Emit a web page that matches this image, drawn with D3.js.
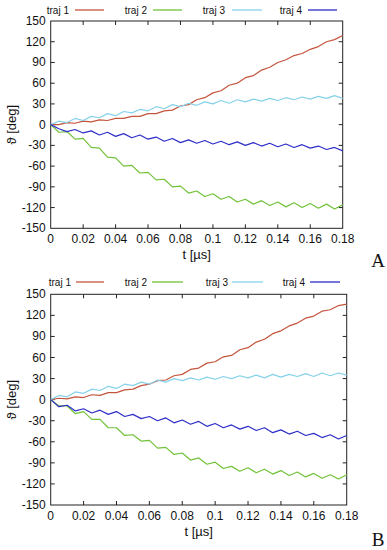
<!DOCTYPE html>
<html>
<head>
<meta charset="utf-8">
<script src="https://cdn.jsdelivr.net/npm/d3@7"></script>
<style>
  body { margin: 0; background: #fff; }
  svg { display: block; font-family: "Liberation Sans", Arial, sans-serif; }
</style>
</head>
<body>
<svg id="chart" width="387" height="550"></svg>
<script>
// time axis, shared by both panels (µs)
const times = d3.range(37).map(i => +(i * 0.005).toFixed(3));
const xTicks = [0, 0.02, 0.04, 0.06, 0.08, 0.1, 0.12, 0.14, 0.16, 0.18];
const yTicks = [-150, -120, -90, -60, -30, 0, 30, 60, 90, 120, 150];
const seriesNames = ['traj 1', 'traj 2', 'traj 3', 'traj 4'];
const seriesColors = ['#c4553d', '#72c23a', '#86d2ea', '#2e2ec8'];

// panel A
const a1 = [0,0,3,2,5,4,7,6,9,9,12,12,16,16,20,21,27,29,36,39,46,49,57,60,68,71,79,83,90,94,100,103,109,113,120,123,129];
const a2 = [0,-11,-10,-21,-20,-33,-34,-47,-48,-60,-59,-70,-69,-80,-79,-90,-89,-99,-96,-104,-100,-108,-104,-112,-108,-115,-110,-117,-112,-119,-113,-120,-114,-121,-115,-122,-116];
const a3 = [0,5,3,9,6,12,10,16,13,19,17,22,20,26,23,29,26,31,28,33,30,35,31,36,33,37,34,38,35,39,36,40,37,41,38,42,38];
const a4 = [0,-6,-10,-7,-12,-9,-15,-11,-17,-13,-19,-15,-21,-18,-24,-20,-26,-22,-27,-23,-28,-24,-29,-25,-30,-26,-31,-27,-32,-28,-33,-29,-34,-31,-36,-33,-38];

// panel B
const b1 = [0,2,1,4,3,7,6,10,10,14,15,20,22,27,28,34,36,43,45,52,54,61,63,71,74,82,86,94,98,105,109,116,119,126,128,134,136];
const b2 = [0,-9,-9,-20,-17,-28,-28,-40,-40,-51,-50,-59,-58,-69,-68,-78,-76,-86,-83,-92,-89,-98,-95,-102,-97,-104,-99,-106,-101,-108,-103,-110,-105,-112,-107,-113,-107];
const b3 = [0,6,4,11,9,15,13,19,16,22,20,25,22,28,25,30,27,31,28,32,29,33,30,34,31,35,31,36,32,36,33,37,33,38,34,38,35];
const b4 = [0,-10,-8,-16,-13,-19,-15,-21,-17,-24,-21,-27,-24,-30,-26,-33,-29,-35,-31,-38,-34,-40,-36,-42,-38,-44,-40,-47,-43,-49,-45,-51,-48,-54,-50,-56,-51];

const svg = d3.select('#chart');

function drawPanel({ left, right, top, bottom, legendY, legendPos, letter, letterY, series }) {
  const g = svg.append('g');
  const x = d3.scaleLinear().domain([0, 0.18]).range([left, right]);
  const y = d3.scaleLinear().domain([-150, 150]).range([bottom, top]);
  const tick = 4;

  // frame
  g.append('rect')
    .attr('x', left).attr('y', top)
    .attr('width', right - left).attr('height', bottom - top)
    .attr('fill', 'none').attr('stroke', '#222').attr('stroke-width', 1);

  // inward ticks, mirrored
  g.selectAll('line.xt').data(xTicks.slice(1, -1)).join('line')
    .attr('x1', d => x(d)).attr('x2', d => x(d))
    .attr('y1', bottom).attr('y2', bottom - tick)
    .attr('stroke', '#222');
  g.selectAll('line.xt2').data(xTicks.slice(1, -1)).join('line')
    .attr('x1', d => x(d)).attr('x2', d => x(d))
    .attr('y1', top).attr('y2', top + tick)
    .attr('stroke', '#222');
  g.selectAll('line.yt').data(yTicks.slice(1, -1)).join('line')
    .attr('x1', left).attr('x2', left + tick)
    .attr('y1', d => y(d)).attr('y2', d => y(d))
    .attr('stroke', '#222');
  g.selectAll('line.yt2').data(yTicks.slice(1, -1)).join('line')
    .attr('x1', right).attr('x2', right - tick)
    .attr('y1', d => y(d)).attr('y2', d => y(d))
    .attr('stroke', '#222');

  // tick labels
  g.selectAll('text.xl').data(xTicks).join('text')
    .attr('x', d => x(d)).attr('y', bottom + 15)
    .attr('text-anchor', 'middle').attr('font-size', 12).attr('fill', '#111')
    .text(d => d);
  g.selectAll('text.yl').data(yTicks).join('text')
    .attr('x', left - 5).attr('y', d => y(d) + 4)
    .attr('text-anchor', 'end').attr('font-size', 12).attr('fill', '#111')
    .text(d => d);

  // axis titles
  g.append('text')
    .attr('x', (left + right) / 2).attr('y', bottom + 31)
    .attr('text-anchor', 'middle').attr('font-size', 13).attr('fill', '#111')
    .text('t [µs]');
  g.append('text')
    .attr('transform', `translate(16,${(top + bottom) / 2}) rotate(-90)`)
    .attr('text-anchor', 'middle').attr('font-size', 13).attr('fill', '#111')
    .text('ϑ [deg]');

  // curves
  const line = d3.line().x((d, i) => x(times[i])).y(d => y(d));
  series.forEach((vals, k) => {
    g.append('path')
      .attr('d', line(vals))
      .attr('fill', 'none')
      .attr('stroke', seriesColors[k])
      .attr('stroke-width', 1.2)
      .attr('stroke-linejoin', 'round');
  });

  // legend
  seriesNames.forEach((name, k) => {
    const [textEnd, l0, l1] = legendPos[k];
    g.append('text')
      .attr('x', textEnd).attr('y', legendY + 4)
      .attr('text-anchor', 'end').attr('font-size', 10).attr('fill', '#111')
      .text(name);
    g.append('line')
      .attr('x1', l0).attr('x2', l1)
      .attr('y1', legendY).attr('y2', legendY)
      .attr('stroke', seriesColors[k]).attr('stroke-width', 1.3);
  });

  g.append('text')
    .attr('x', 378).attr('y', letterY)
    .attr('text-anchor', 'middle')
    .attr('font-family', '"Liberation Serif", "Times New Roman", serif')
    .attr('font-size', 19).attr('fill', '#111')
    .text(letter);
}

drawPanel({
  left: 50.7, right: 342.7, top: 21, bottom: 228.3,
  legendY: 10,
  legendPos: [[69, 75, 104], [147, 153, 182], [225, 232, 262], [302, 308, 337]],
  letter: 'A', letterY: 267,
  series: [a1, a2, a3, a4]
});

drawPanel({
  left: 50.7, right: 346.7, top: 294.3, bottom: 505,
  legendY: 282,
  legendPos: [[71, 76, 104], [147, 152, 183], [228, 232, 263], [305, 310, 340]],
  letter: 'B', letterY: 546,
  series: [b1, b2, b3, b4]
});
</script>
</body>
</html>
